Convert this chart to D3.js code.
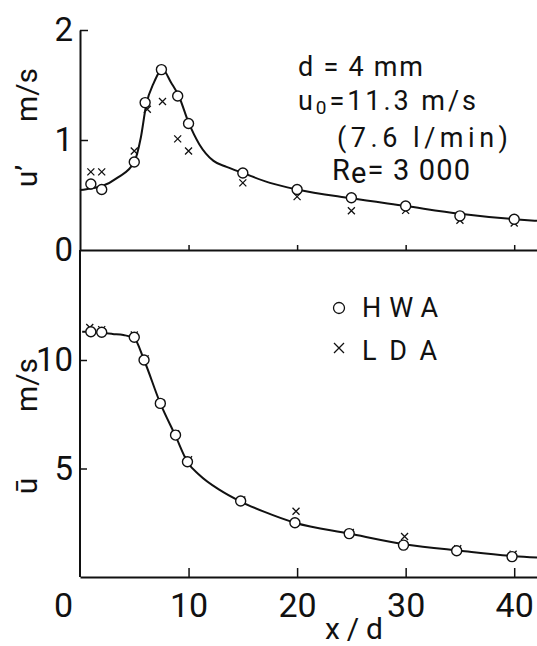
<!DOCTYPE html>
<html>
<head>
<meta charset="utf-8">
<script src="https://cdn.jsdelivr.net/npm/d3@7"></script>
<style>
  body { margin: 0; background: #fff; }
  svg text { fill: #111; }
</style>
</head>
<body>
<div id="chart"></div>
<script>
var svgWidth = 537;
var svgHeight = 646;

var xdHwaRms = [1, 2, 5, 6, 7.5, 9, 10, 15, 20, 25, 30, 35, 40];
var rmsHwa = [0.60, 0.55, 0.80, 1.34, 1.64, 1.40, 1.15, 0.70, 0.55, 0.475, 0.40, 0.31, 0.28];
var xdLdaRms = [1, 2, 5, 6.2, 7.6, 9, 10, 15, 20, 25, 30, 35, 40];
var rmsLda = [0.71, 0.71, 0.90, 1.28, 1.35, 1.01, 0.90, 0.61, 0.485, 0.357, 0.36, 0.27, 0.245];

var xdHwaMean = [1, 2, 5, 5.9, 7.4, 8.8, 9.9, 14.8, 19.8, 24.8, 29.8, 34.7, 39.8];
var meanHwa = [11.3, 11.28, 11.05, 10.0, 8.0, 6.54, 5.31, 3.5, 2.5, 2.0, 1.47, 1.21, 0.94];
var xdLdaMean = [0.9, 2, 5, 6, 7.5, 8.8, 10, 14.9, 19.9, 24.9, 29.9, 34.8, 39.9];
var meanLda = [11.5, 11.4, 11.15, 10.05, 8.0, 6.6, 5.4, 3.55, 3.03, 2.05, 1.87, 1.3, 1.05];

// fitted curves
var rmsCurveX = [0, 1, 2, 3.5, 5, 5.6, 6.1, 6.8, 7.6, 8.4, 9.1, 10, 11, 12.3, 13.5, 15, 17.5, 20, 25, 30, 35, 40, 42.1];
var rmsCurveY = [0.545, 0.56, 0.58, 0.66, 0.80, 1.02, 1.32, 1.52, 1.64, 1.52, 1.40, 1.16, 0.96, 0.81, 0.755, 0.70, 0.61, 0.55, 0.47, 0.40, 0.33, 0.28, 0.265];
var meanCurveX = [0.2, 1, 2, 3, 4, 5, 5.9, 7.4, 8.8, 9.9, 11, 12.9, 14.7, 17, 19.8, 24.8, 30, 35, 40, 42.1];
var meanCurveY = [11.3, 11.3, 11.25, 11.2, 11.15, 11.0, 10.0, 8.0, 6.5, 5.3, 4.7, 4.0, 3.5, 3.0, 2.5, 2.0, 1.5, 1.21, 0.96, 0.9];

var xTicks = [0, 10, 20, 30, 40];
var rmsTicks = [0, 1, 2];
var meanTicks = [5, 10];

var font = "Roboto, 'DejaVu Sans', sans-serif";

var svg = d3
  .select("#chart")
  .append("svg")
  .attr("width", svgWidth)
  .attr("height", svgHeight);

var xScale = d3.scaleLinear().domain([0, 42.1]).range([80, 537]);
var yRms = d3.scaleLinear().domain([0, 2]).range([250, 30]);
var yMean = d3.scaleLinear().domain([0, 10]).range([577, 360]);

function styleAxis(g, size) {
  g.select(".domain").attr("stroke", "#111").attr("stroke-width", 2);
  g.selectAll(".tick line").attr("stroke", "#111").attr("stroke-width", 1.5);
  g.selectAll(".tick text")
    .attr("font-family", font)
    .attr("font-size", size)
    .attr("fill", "#111");
}

// top panel x axis (no labels)
var xTop = svg.append("g")
  .attr("transform", "translate(0, 250)")
  .call(d3.axisBottom(xScale).tickValues([10, 20, 30, 40]).tickSizeInner(-5).tickSizeOuter(0).tickFormat(""));
styleAxis(xTop, 0);

// bottom x axis
var xBot = svg.append("g")
  .attr("transform", "translate(0, 577)")
  .call(d3.axisBottom(xScale).tickValues(xTicks).tickSizeInner(-9).tickSizeOuter(0).tickPadding(16).tickFormat(d3.format("d")));
styleAxis(xBot, 34);
xBot.selectAll(".tick line").filter((d) => d === 0).remove();
xBot.selectAll(".tick text").filter((d) => d === 0).attr("x", -17);

// top y axis
var yTop = svg.append("g")
  .attr("transform", "translate(80, 0)")
  .call(d3.axisLeft(yRms).tickValues(rmsTicks).tickSizeInner(-8).tickSizeOuter(0).tickPadding(7).tickFormat(d3.format("d")));
styleAxis(yTop, 33);
yTop.selectAll(".tick line").filter((d) => d === 0).remove();

// bottom y axis
var yBot = svg.append("g")
  .attr("transform", "translate(80, 0)")
  .call(d3.axisLeft(yMean).tickValues(meanTicks).tickSizeInner(-7).tickSizeOuter(0).tickPadding(7).tickFormat(d3.format("d")));
yBot.select(".domain").attr("d", `M0,${yMean(0)}V${yRms(0)}`);
styleAxis(yBot, 33);

// curves
var line = d3.line().curve(d3.curveMonotoneX);

svg.append("path")
  .attr("d", line(rmsCurveX.map((x, i) => [xScale(x), yRms(rmsCurveY[i])])))
  .attr("fill", "none")
  .attr("stroke", "#111")
  .attr("stroke-width", 2);

svg.append("path")
  .attr("d", line(meanCurveX.map((x, i) => [xScale(x), yMean(meanCurveY[i])])))
  .attr("fill", "none")
  .attr("stroke", "#111")
  .attr("stroke-width", 2);

// markers
function crosses(xs, ys, yScale, h) {
  var g = svg.append("g");
  xs.forEach(function (x, i) {
    var cx = xScale(x);
    var cy = yScale(ys[i]);
    g.append("path")
      .attr("d", `M${cx - h},${cy - h}L${cx + h},${cy + h}M${cx - h},${cy + h}L${cx + h},${cy - h}`)
      .attr("stroke", "#111")
      .attr("stroke-width", 1.3);
  });
}

function circles(xs, ys, yScale) {
  svg.append("g")
    .selectAll("circle")
    .data(xs)
    .enter()
    .append("circle")
    .attr("cx", (d) => xScale(d))
    .attr("cy", (d, i) => yScale(ys[i]))
    .attr("r", 5)
    .attr("fill", "#fff")
    .attr("stroke", "#111")
    .attr("stroke-width", 1.4);
}

crosses(xdLdaRms, rmsLda, yRms, 3.5);
circles(xdHwaRms, rmsHwa, yRms);
crosses(xdLdaMean, meanLda, yMean, 3.5);
circles(xdHwaMean, meanHwa, yMean);

// axis titles
function vLabel(x, y, txt) {
  svg.append("text")
    .attr("transform", `translate(${x}, ${y}) rotate(-90)`)
    .attr("text-anchor", "middle")
    .attr("font-family", font)
    .attr("font-size", 30)
    .text(txt);
}
vLabel(37, 176, "u’");
vLabel(37, 95, "m/s");
vLabel(37, 486, "ū");
vLabel(37, 385, "m/s");

svg.append("text")
  .attr("x", 325)
  .attr("y", 639)
  .attr("font-family", font)
  .attr("font-size", 30)
  .attr("textLength", 58)
  .attr("lengthAdjust", "spacing")
  .text("x/d");

// annotation
var ann = svg.append("g").attr("font-family", font).attr("font-size", 27);
ann.append("text").attr("x", 298).attr("y", 76)
  .attr("textLength", 125).attr("lengthAdjust", "spacing").text("d = 4 mm");
var u0 = ann.append("text").attr("x", 298).attr("y", 110)
  .attr("textLength", 178).attr("lengthAdjust", "spacing");
u0.append("tspan").text("u");
u0.append("tspan").attr("font-size", 19).attr("dy", 4).text("0");
u0.append("tspan").attr("dy", -4).text("=11.3 m/s");
ann.append("text").attr("x", 337).attr("y", 147)
  .attr("textLength", 171).attr("lengthAdjust", "spacing").text("(7.6 l/min)");
var re = ann.append("text").attr("x", 332).attr("y", 180).attr("font-size", 29)
  .attr("textLength", 138).attr("lengthAdjust", "spacing");
re.append("tspan").text("R");
re.append("tspan").attr("dy", 3).text("e");
re.append("tspan").attr("dy", -3).text("= 3 000");

// legend
var leg = svg.append("g").attr("font-family", font).attr("font-size", 27);
leg.append("circle").attr("cx", 339).attr("cy", 308).attr("r", 5.5)
  .attr("fill", "none").attr("stroke", "#111").attr("stroke-width", 1.3);
leg.append("path").attr("d", "M334,343L344,353M334,353L344,343")
  .attr("stroke", "#111").attr("stroke-width", 1.3);
leg.append("text").attr("x", 362).attr("y", 317)
  .attr("textLength", 76).attr("lengthAdjust", "spacing").text("HWA");
leg.append("text").attr("x", 362).attr("y", 360)
  .attr("textLength", 75).attr("lengthAdjust", "spacing").text("LDA");
</script>
</body>
</html>
